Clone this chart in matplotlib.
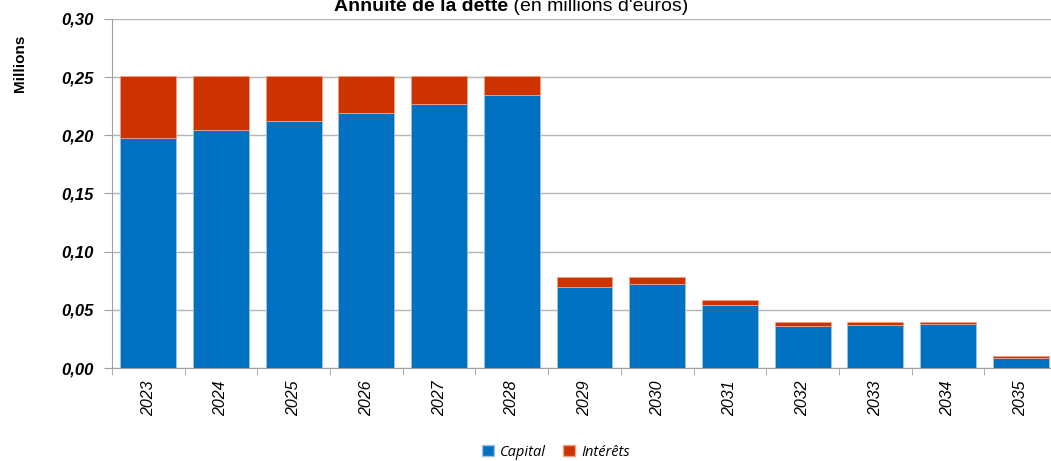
import matplotlib.pyplot as plt
import numpy as np
from matplotlib.patches import Patch
from matplotlib.ticker import FixedLocator

# annuités par année (en millions d'euros)
years = ["2023", "2024", "2025", "2026", "2027", "2028", "2029",
         "2030", "2031", "2032", "2033", "2034", "2035"]
capital = [0.198, 0.205, 0.212, 0.219, 0.227, 0.235, 0.070,
           0.072, 0.054, 0.036, 0.037, 0.038, 0.009]
interets = [0.053, 0.046, 0.039, 0.032, 0.024, 0.016, 0.0085,
            0.0065, 0.0045, 0.0038, 0.0028, 0.0016, 0.0013]

blue = "#0070c0"
red = "#cc3300"

plt.rcParams["font.family"] = ["Liberation Sans", "DejaVu Sans"]

fig = plt.figure(figsize=(10.51, 4.61), dpi=100)
ax = fig.add_axes([112 / 1051, 93 / 461, 945 / 1051, 349 / 461])

x = np.arange(len(years))
w = 0.77
ax.bar(x, capital, width=w, color=blue, edgecolor="#9cc3e6", linewidth=0.6, zorder=3)
ax.bar(x, interets, width=w, bottom=capital, color=red, edgecolor="#f0a080",
       linewidth=0.6, zorder=3)

ax.set_xlim(-0.5, len(years) - 0.5)
ax.set_ylim(0, 0.30)
ax.set_yticks(np.arange(0, 0.301, 0.05))
ax.set_yticklabels([f"{v:.2f}".replace(".", ",") for v in np.arange(0, 0.301, 0.05)],
                   fontsize=12, fontweight="bold", fontstyle="italic")
ax.set_xticks(x)
ax.set_xticklabels(years, rotation=90, fontsize=11.5, fontstyle="italic")
ax.xaxis.set_minor_locator(FixedLocator(np.arange(-0.5, len(years), 1.0)))
ax.tick_params(axis="x", which="major", length=0, pad=9)
ax.tick_params(axis="x", which="minor", length=5, color="#a0a0a0", direction="out")
ax.tick_params(axis="y", length=6, color="#a0a0a0", pad=7)

ax.yaxis.grid(True, color="#b4b4b4", linewidth=1.0, zorder=0)
ax.set_axisbelow(True)
for s in ["top", "right"]:
    ax.spines[s].set_visible(False)
for s in ["left", "bottom"]:
    ax.spines[s].set_color("#a0a0a0")

fig.text(20 / 1051, 1 - 63 / 461, "Millions", rotation=90, ha="center", va="center",
         fontsize=11, fontweight="bold")

# titre : partie grasse + partie normale
t1 = fig.text(0.5, 1 - 11 / 461, "Annuité de la dette", ha="right", va="baseline",
              fontsize=14, fontweight="bold")
t2 = fig.text(0.5, 1 - 11 / 461, " (en millions d'euros)", ha="left", va="baseline",
              fontsize=14)
fig.canvas.draw()
r = fig.canvas.get_renderer()
w1 = t1.get_window_extent(r).width
w2 = t2.get_window_extent(r).width
cx = 511
t1.set_x((cx - (w1 + w2) / 2 + w1) / 1051)
t2.set_x((cx - (w1 + w2) / 2 + w1) / 1051)

handles = [Patch(facecolor=blue, edgecolor="#9cc3e6", label="Capital"),
           Patch(facecolor=red, edgecolor="#f0a080", label="Intérêts")]
fig.legend(handles=handles, loc="center", bbox_to_anchor=(556 / 1051, 1 - 452 / 461),
           ncol=2, frameon=False, handlelength=0.8, handleheight=0.8,
           handletextpad=0.4, columnspacing=1.2,
           prop={"family": "Open Sans", "style": "italic", "size": 10.5})

fig.savefig("out.png", dpi=100)
